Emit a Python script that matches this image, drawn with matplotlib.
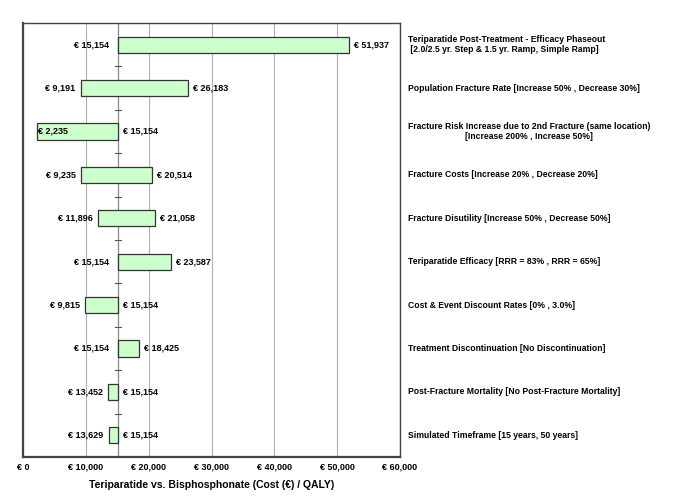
import numpy as np
import matplotlib
matplotlib.use("Agg")
import matplotlib.pyplot as plt

plt.rcParams['font.family'] = ['Liberation Sans', 'DejaVu Sans']

# Base case ICER and one-way sensitivity ranges (top to bottom)
base = 15154
labels = [
    "Teriparatide Post-Treatment - Efficacy Phaseout\n [2.0/2.5 yr. Step & 1.5 yr. Ramp, Simple Ramp]",
    "Population Fracture Rate [Increase 50% , Decrease 30%]",
    "Fracture Risk Increase due to 2nd Fracture (same location)\n[Increase 200% , Increase 50%]",
    "Fracture Costs [Increase 20% , Decrease 20%]",
    "Fracture Disutility [Increase 50% , Decrease 50%]",
    "Teriparatide Efficacy [RRR = 83% , RRR = 65%]",
    "Cost & Event Discount Rates [0% , 3.0%]",
    "Treatment Discontinuation [No Discontinuation]",
    "Post-Fracture Mortality [No Post-Fracture Mortality]",
    "Simulated Timeframe [15 years, 50 years]",
]
low = [15154, 9191, 2235, 9235, 11896, 15154, 9815, 15154, 13452, 13629]
high = [51937, 26183, 15154, 20514, 21058, 23587, 15154, 18425, 15154, 15154]
xticks = [0, 10000, 20000, 30000, 40000, 50000, 60000]

fig = plt.figure(figsize=(6.85, 4.99), dpi=100)
ax = fig.add_axes([0.0336, 0.0842, 0.5504, 0.8697])

n = len(labels)
y = np.arange(n)
ax.barh(y, np.array(high) - np.array(low), left=low, height=0.37,
        color='#ccffcc', edgecolor='#333333', linewidth=0.9, zorder=3)

ax.set_xlim(0, 60000)
ax.set_ylim(n - 0.5, -0.5)
ax.set_xticks(xticks)
ax.set_xticklabels(["€ 0" if v == 0 else f"€ {v:,}" for v in xticks],
                   fontsize=6.5, fontweight='bold')
ax.tick_params(axis='x', length=0, pad=4)
ax.set_yticks([])
ax.grid(axis='x', color='#b0b0b0', linewidth=0.8, zorder=0)
ax.axvline(base, color='#888888', linewidth=0.9, zorder=2)
for spine in ax.spines.values():
    spine.set_color('#444444')
    spine.set_linewidth(1.0)
ax.spines['left'].set_linewidth(1.6)
ax.spines['bottom'].set_linewidth(1.6)

# small ticks on the base line between rows
for k in range(n - 1):
    ax.plot([base - 450, base + 450], [k + 0.5, k + 0.5], color='#555555',
            linewidth=0.8, zorder=2)

for i in range(n):
    lo, hi = low[i], high[i]
    if lo < 5000:
        ax.text(lo + 200, i, f"€ {lo:,}", ha='left', va='center',
                fontsize=6.5, fontweight='bold', zorder=4)
    else:
        off = 1400 if lo == base else 800
        ax.text(lo - off, i, f"€ {lo:,}", ha='right', va='center',
                fontsize=6.5, fontweight='bold', zorder=4)
    ax.text(hi + 800, i, f"€ {hi:,}", ha='left', va='center',
            fontsize=6.5, fontweight='bold', zorder=4)
    ax.text(1.02, i, labels[i], transform=ax.get_yaxis_transform(),
            ha='left', va='center', fontsize=6.2, fontweight='bold',
            multialignment='center' if i == 2 else 'left', clip_on=False)

ax.set_xlabel("Teriparatide vs. Bisphosphonate (Cost (€) / QALY)",
              fontsize=7.5, fontweight='bold', labelpad=6)

fig.savefig("out.png", dpi=100)
